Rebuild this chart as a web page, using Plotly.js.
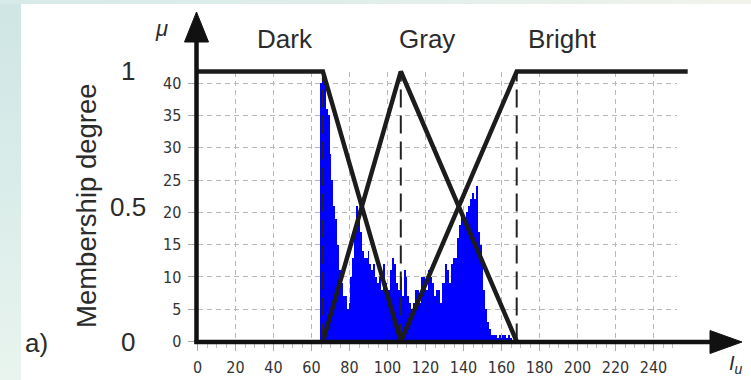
<!DOCTYPE html>
<html>
<head>
<meta charset="utf-8">
<script src="https://cdn.plot.ly/plotly-3.0.1.min.js"></script>
<style>
  html, body { margin:0; padding:0; }
  #wrap {
    position:relative; width:751px; height:380px; overflow:hidden;
    background:
      linear-gradient(to right, #d6eae8, #e3efeb 60%, #f1f3ea) top left / 100% 4px no-repeat,
      linear-gradient(to bottom, #cfe6e5, #d9ece9 45%, #e9f4ee 100%) top left / 21px 100% no-repeat,
      #ffffff;
  }
  #chart { position:absolute; left:0; top:0; width:751px; height:380px; }
</style>
</head>
<body>
<div id="wrap"><div id="chart"></div></div>
<script>
// ---------- data ----------
const intensity = [65,66,67,68,69,70,71,72,73,74,75,76,77,78,79,80,81,82,83,84,85,86,87,88,89,
  90,91,92,93,94,95,96,97,98,99,100,101,102,103,104,105,106,107,108,109,110,111,112,113,114,
  115,116,117,118,119,120,121,122,123,124,125,126,127,128,129,130,131,132,133,134,135,136,137,
  138,139,140,141,142,143,144,145,146,147,148,149,150,151,152,153,154,155,156,157,158,159,160,
  161,162,163,164,165];
const counts = [40,42,41,36,35,29,25,21,19,15,11,9,7,7,5,6,10,13,18,21,20,17,14,13,13,
  14,12,11,12,10,9,10,8,12,9,7,8,11,13,12,9,8,10,7,11,10,7,6,5,6,
  8,8,6,10,10,9,8,11,10,9,7,8,8,6,9,9,12,11,9,12,13,13,16,
  18,20,19,18,20,21,22,23,22,24,17,15,13,8,5,3,2,1,1,1,0.5,1,0.5,
  1,1,0.5,1,0.5];

const darkX = [0, 66, 107];   const darkMu = [1, 1, 0];
const grayX = [66, 107, 168]; const grayMu = [0, 1, 0];
const brightX = [107, 168, 258]; const brightMu = [0, 1, 1];
const breakpoints = [66, 107, 168];

const xTicks = [0,20,40,60,80,100,120,140,160,180,200,220,240];
const yTicks = [0,5,10,15,20,25,30,35,40];
const muTicks = [0, 0.5, 1];
const muLabels = ['0', '0.5', '1'];
const setNames = ['Dark', 'Gray', 'Bright'];

// ---------- helpers (pixel -> paper) ----------
const W = 751, H = 380;
const px = x => x / W;
const py = y => 1 - y / H;

const tickFont = {family:'Liberation Sans Narrow, DejaVu Sans Condensed, Arial Narrow, sans-serif', size:16, color:'#333'};
const bigFont = {family:'Liberation Sans, Arial, sans-serif', size:26, color:'#2b2b2b'};

const traces = [];
traces.push({type:'bar', x:intensity, y:counts, width:1, marker:{color:'#0000ff', line:{width:0}},
  xaxis:'x', yaxis:'y', hoverinfo:'skip'});
breakpoints.forEach(b => traces.push({type:'scatter', mode:'lines', x:[b,b], y:[0,1],
  line:{color:'#222', width:2, dash:'18px,8px'}, xaxis:'x2', yaxis:'y2', hoverinfo:'skip'}));
[[darkX,darkMu],[grayX,grayMu],[brightX,brightMu]].forEach(([xs,ys]) => traces.push({
  type:'scatter', mode:'lines', x:xs, y:ys, line:{color:'#1c1c1c', width:4.5},
  xaxis:'x2', yaxis:'y2', hoverinfo:'skip'}));

const annotations = [];
muTicks.forEach((m,i) => annotations.push({xref:'paper', yref:'y2', x:px(128), y:m,
  text:muLabels[i], showarrow:false, xanchor:'center', yanchor:'middle', font:bigFont}));
const nameX = [285, 427, 562];
setNames.forEach((n,i) => annotations.push({xref:'paper', yref:'paper', x:px(nameX[i]), y:py(39),
  text:n, showarrow:false, xanchor:'center', yanchor:'middle', font:bigFont}));
annotations.push({xref:'paper', yref:'paper', x:px(86), y:py(206), text:'Membership degree',
  textangle:-90, showarrow:false, xanchor:'center', yanchor:'middle',
  font:{family:'Liberation Sans, Arial, sans-serif', size:27.5, color:'#2b2b2b'}});
annotations.push({xref:'paper', yref:'paper', x:px(36), y:py(343), text:'a)',
  showarrow:false, xanchor:'center', yanchor:'middle', font:bigFont});
annotations.push({xref:'paper', yref:'paper', x:px(161), y:py(28), text:'<i>μ</i>',
  showarrow:false, xanchor:'center', yanchor:'middle', font:{family:'Liberation Sans, Arial, sans-serif', size:22, color:'#2b2b2b'}});
annotations.push({xref:'paper', yref:'paper', x:px(736), y:py(364), text:'<i>I</i><sub><i>u</i></sub>',
  showarrow:false, xanchor:'center', yanchor:'middle', font:{family:'Liberation Sans, Arial, sans-serif', size:20, color:'#2b2b2b'}});

const shapes = [
  // y axis
  {type:'line', xref:'paper', yref:'paper', x0:px(196.5), x1:px(196.5), y0:py(344), y1:py(36),
   line:{color:'#111', width:4.5}, layer:'above'},
  {type:'path', xref:'paper', yref:'paper',
   path:`M ${px(196.5)} ${py(12)} L ${px(184.5)} ${py(42)} L ${px(208.5)} ${py(42)} Z`,
   fillcolor:'#111', line:{color:'#111', width:1}, layer:'above'},
  // x axis
  {type:'line', xref:'paper', yref:'paper', x0:px(194.5), x1:px(716), y0:py(342), y1:py(342),
   line:{color:'#111', width:4.5}, layer:'above'},
  {type:'path', xref:'paper', yref:'paper',
   path:`M ${px(742)} ${py(342)} L ${px(710)} ${py(330.5)} L ${px(710)} ${py(353.5)} Z`,
   fillcolor:'#111', line:{color:'#111', width:1}, layer:'above'}
];

const layout = {
  width:W, height:H, margin:{l:0, r:0, t:0, b:0},
  paper_bgcolor:'rgba(0,0,0,0)', plot_bgcolor:'rgba(0,0,0,0)',
  showlegend:false, bargap:0,
  xaxis:{domain:[px(197.5), px(676.5)], range:[0, 252.1], anchor:'y',
    tickmode:'array', tickvals:xTicks, ticktext:xTicks.map(String),
    showgrid:true, gridcolor:'#b8b8b8', gridwidth:1, griddash:'5px,4px',
    zeroline:false, showline:false, ticks:'outside', ticklen:8, tickcolor:'#aaa', tickwidth:1,
    tickfont:tickFont, ticklabelstandoff:3,
    minor:{tickmode:'linear', tick0:0, dtick:5, ticks:'outside', ticklen:5, tickcolor:'#bbb', showgrid:false}},
  yaxis:{domain:[py(341.5), py(71.5)], range:[0, 41.8], anchor:'x',
    tickmode:'array', tickvals:yTicks, ticktext:yTicks.map(String),
    showgrid:true, gridcolor:'#b8b8b8', gridwidth:1, griddash:'5px,4px',
    zeroline:false, showline:false, ticks:'outside', ticklen:9, tickcolor:'#aaa', tickwidth:1,
    tickfont:tickFont, ticklabelstandoff:3},
  xaxis2:{domain:[px(197.5), px(745)], range:[0, (745-197.5)/1.9], anchor:'y2', visible:false},
  yaxis2:{domain:[py(350), py(10)], range:[(341.5-350)/270, (341.5-10)/270], anchor:'x2', visible:false},
  annotations:annotations, shapes:shapes
};

Plotly.newPlot('chart', traces, layout, {staticPlot:true, displayModeBar:false});
</script>
</body>
</html>
